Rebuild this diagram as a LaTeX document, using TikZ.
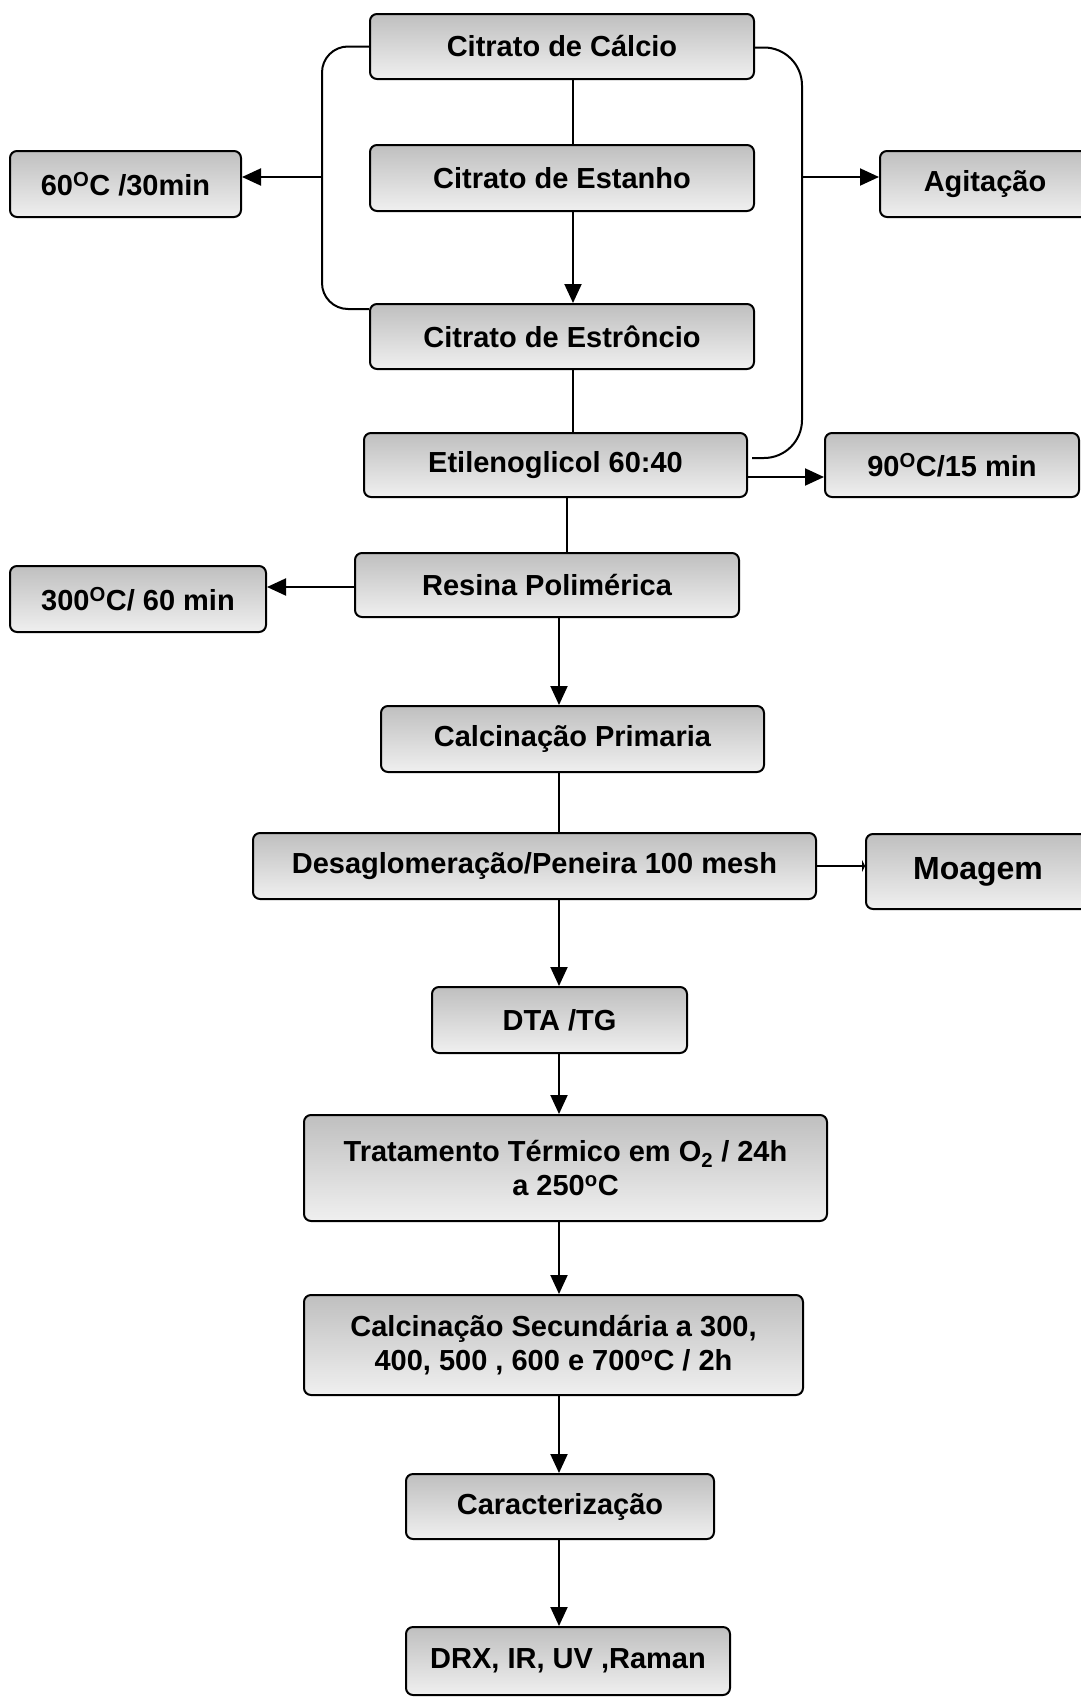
\documentclass[tikz,border=0pt]{standalone}
\usepackage{fontspec}
\setmainfont{Liberation Sans}
\usetikzlibrary{arrows.meta,positioning,calc}

\tikzset{
  stage/.style={draw=black,line width=2pt,rounded corners=7pt,top color=gray!50,bottom color=gray!12,
    align=center,inner sep=0pt,minimum height=65pt,font=\bfseries\fontsize{29}{34}\selectfont},
  link/.style={line width=2pt},
  arr/.style={line width=2pt,-{Triangle[length=19pt,width=17pt]}},
}

\begin{document}
\begin{tikzpicture}[x=1pt,y=-1pt]
  \useasboundingbox (0,0) rectangle (1080,1697);
  % citratos
  \node[stage,minimum width=384pt] (calcio) at (562,46.5) {Citrato de Cálcio};
  \node[stage,minimum width=384pt,minimum height=66pt] (estanho) at (562,178) {Citrato de Estanho};
  \node[stage,minimum width=384pt] (estroncio) at (562,336.5) {Citrato de Estrôncio};
  \node[stage,minimum width=231pt,minimum height=66pt] (tempA) at (125.5,184) {60\textsuperscript{O}C /30min};
  \node[stage,minimum width=210pt,minimum height=66pt] (agita) at (985,184) {Agitação};
  % mistura
  \node[stage,minimum width=383pt,minimum height=64pt] (etileno) at (555.5,465) {Etilenoglicol 60:40};
  \node[stage,minimum width=254pt,minimum height=64pt] (tempB) at (952,465) {90\textsuperscript{O}C/15 min};
  \node[stage,minimum width=384pt,minimum height=64pt] (resina) at (547,585) {Resina Polimérica};
  \node[stage,minimum width=256pt,minimum height=66pt] (tempC) at (138,599) {300\textsuperscript{O}C/ 60 min};
  % tratamento do po
  \node[stage,minimum width=383pt,minimum height=66pt] (calcPrim) at (572.5,739) {Calcinação Primaria};
  \node[stage,minimum width=563pt,minimum height=66pt] (desaglom) at (534.5,866) {Desaglomeração/Peneira 100 mesh};
  \node[stage,minimum width=224pt,minimum height=75pt,font=\bfseries\fontsize{32}{38}\selectfont] (moagem) at (978,871.5) {Moagem};
  \node[stage,minimum width=255pt,minimum height=66pt] (dta) at (559.5,1020) {DTA /TG};
  \node[stage,minimum width=523pt,minimum height=106pt] (termico) at (565.5,1168)
    {Tratamento Térmico em O\textsubscript{2} / 24h\\a 250\textsuperscript{o}C};
  \node[stage,minimum width=499pt,minimum height=100pt] (calcSec) at (553.5,1345)
    {Calcinação Secundária a 300,\\400, 500 , 600 e 700\textsuperscript{o}C / 2h};
  \node[stage,minimum width=308pt] (caract) at (560,1506.5) {Caracterização};
  \node[stage,minimum width=324pt,minimum height=68pt] (drx) at (568,1661) {DRX, IR, UV ,Raman};

  \coordinate (spineA) at (573,0);
  \coordinate (spineB) at (567,0);
  \coordinate (spineC) at (559,0);
  \coordinate (brkL) at (322,177);
  \coordinate (brkR) at (802,177);

  % ligacoes
  \draw[link] (calcio.south -| spineA) -- (estanho.north -| spineA);
  \draw[arr] (estanho.south -| spineA) -- (estroncio.north -| spineA);
  \draw[link] (estroncio.south -| spineA) -- (etileno.north -| spineA);
  \draw[link] (etileno.south -| spineB) -- (resina.north -| spineB);
  \draw[arr] (resina.south -| spineC) -- (calcPrim.north -| spineC);
  \draw[link] (calcPrim.south -| spineC) -- (desaglom.north -| spineC);
  \draw[arr] (desaglom.south -| spineC) -- (dta.north -| spineC);
  \draw[arr] (dta.south -| spineC) -- (termico.north -| spineC);
  \draw[arr] (termico.south -| spineC) -- (calcSec.north -| spineC);
  \draw[arr] (calcSec.south -| spineC) -- (caract.north -| spineC);
  \draw[arr] (caract.south -| spineC) -- (drx.north -| spineC);

  \draw[link,rounded corners=26pt] (calcio.west) -| (brkL) |- ([yshift=-6pt]estroncio.north west);
  \draw[link,rounded corners=38pt] ([yshift=-1pt]calcio.east) -| (brkR) |- ([xshift=4pt,yshift=7pt]etileno.east);
  \draw[arr] (brkL) -- (brkL -| tempA.east);
  \draw[arr] (brkR) -- (brkR -| agita.west);
  \draw[arr] ([yshift=-12pt]etileno.east) -- ([yshift=-12pt]etileno.east -| tempB.west);
  \draw[arr] ([yshift=-2pt]resina.west) -- ([yshift=-2pt]resina.west -| tempC.east);
  \draw[line width=2pt,-{Triangle[length=3pt,width=12pt]}] (desaglom.east) -- (desaglom.east -| moagem.west);
\end{tikzpicture}
\end{document}
